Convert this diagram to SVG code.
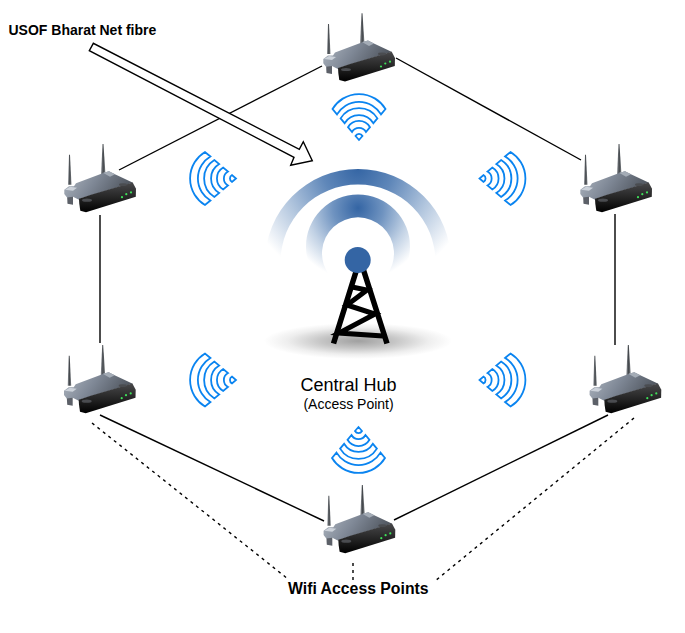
<svg xmlns="http://www.w3.org/2000/svg" width="685" height="633" viewBox="0 0 685 633">
<style>
.t{font-family:"Liberation Sans",Arial,sans-serif;fill:#000}
.b{font-weight:bold}
.c{fill:none;stroke:#000;stroke-width:1.4}
.d{fill:none;stroke:#000;stroke-width:1.4;stroke-dasharray:3 4}
.w{fill:none;stroke:#0a84f0;stroke-width:1.8;stroke-linejoin:miter}
</style>
<defs>
<linearGradient id="ant" x1="0" x2="1" y1="0" y2="0"><stop offset="0" stop-color="#90949a"/><stop offset="0.5" stop-color="#44484c"/><stop offset="1" stop-color="#7c8084"/></linearGradient>
<linearGradient id="plate" x1="0" x2="1" y1="0" y2="0.3"><stop offset="0" stop-color="#b0b8c2"/><stop offset="0.5" stop-color="#7f8896"/><stop offset="1" stop-color="#50565f"/></linearGradient>
<linearGradient id="front" x1="0" x2="0" y1="0" y2="1"><stop offset="0" stop-color="#48484a"/><stop offset="0.55" stop-color="#222"/><stop offset="1" stop-color="#000"/></linearGradient>
<radialGradient id="r1" gradientUnits="userSpaceOnUse" cx="358" cy="168" r="118"><stop offset="0" stop-color="#3465a4"/><stop offset="0.3" stop-color="#5f87b9"/><stop offset="0.65" stop-color="#b2c6de"/><stop offset="1" stop-color="#fff"/></radialGradient>
<radialGradient id="r2" gradientUnits="userSpaceOnUse" cx="358" cy="208" r="72"><stop offset="0" stop-color="#3465a4"/><stop offset="0.35" stop-color="#6f93c0"/><stop offset="0.7" stop-color="#c2d2e5"/><stop offset="1" stop-color="#fff"/></radialGradient>
<radialGradient id="sh" cx="0.5" cy="0.5" r="0.5"><stop offset="0" stop-color="#a0a0a0"/><stop offset="0.4" stop-color="#c6c6c6"/><stop offset="0.75" stop-color="#eeeeee"/><stop offset="1" stop-color="#fff"/></radialGradient>
<g id="router">
<polygon points="27,44 28,14 29,14 30.5,44" fill="url(#ant)"/>
<polygon points="60,34 61.5,3.3 62.5,3.3 64.5,34" fill="url(#ant)"/>
<polygon points="26,54 32,54 32,64 26.5,63" fill="#5c6068"/>
<polygon points="23.3,49 28,45.5 33,45.5 35,42.5 63,32 68,30.5 75,34 92,42 40,57.5 38,59 32,56 26,56.7 23.3,53.3" fill="url(#plate)"/>
<polygon points="24,49 29,46 36,47 32,50" fill="#ccd2da"/>
<polygon points="62,32 68,30.5 74,33.5 69,36" fill="#a4acb6"/>
<polygon points="38,58 50,54 91.7,41.7 95,48 94.8,56 45,71.5 39.3,70 38.3,63" fill="url(#front)"/>
<ellipse cx="46" cy="59.5" rx="5" ry="1.6" fill="#4a4c50"/>
<ellipse cx="82" cy="44" rx="4" ry="1.4" fill="#4a4c50"/>
<circle cx="81" cy="56.5" r="1.1" fill="#3fe05a"/><circle cx="85.3" cy="53.5" r="1.1" fill="#3fe05a"/><circle cx="90" cy="51.7" r="1.1" fill="#3fe05a"/>
</g>
<path id="wifi" class="w" d="M-3.5,-4 A4,4 0 0 1 3.5,-4 L0,0 Z M-7,-8 A8,8 0 0 1 7,-8 L11,-12.8 A12.8,12.8 0 0 0 -11,-12.8 Z M-14.4,-16.8 A16.8,16.8 0 0 1 14.4,-16.8 L18.4,-21.6 A21.6,21.6 0 0 0 -18.4,-21.6 Z M-22,-25.6 A25.6,25.6 0 0 1 22,-25.6 L26.5,-31 A31,31 0 0 0 -26.5,-31 Z"/>
</defs>

<g id="connectors">
<line class="c" x1="119" y1="170" x2="322" y2="66"/>
<line class="c" x1="396" y1="58" x2="581" y2="160"/>
<line class="c" x1="100" y1="215" x2="100" y2="343"/>
<line class="c" x1="615" y1="214" x2="615" y2="345"/>
<line class="c" x1="100" y1="415" x2="324" y2="521"/>
<line class="c" x1="394" y1="520" x2="608" y2="415"/>
<line class="d" x1="92" y1="423" x2="288" y2="579"/>
<line class="d" x1="634" y1="418" x2="435" y2="581"/>
<line class="d" x1="353" y1="563" x2="353" y2="580"/>
<polygon id="fibre-arrow" fill="#fff" stroke="#000" stroke-width="1.4" stroke-linejoin="miter" points="93.3,43.3 89.3,50.7 294,157.3 290.7,165.3 312.3,160.7 303.3,141.7 299.3,149.3"/>
</g>

<g id="hub">
<ellipse cx="358" cy="341" rx="94" ry="18" fill="url(#sh)"/>
<path d="M265,262 A93,93 0 0 1 451,262 L435.5,262 A77.5,77.5 0 0 0 280.5,262 Z" fill="url(#r1)"/>
<path d="M322,284 A52,52 0 1 1 394,284 L386,276 A36,36 0 1 0 330,276 Z" fill="url(#r2)"/>
<path d="M356.5,270 L333.5,343.5 M363.5,270 L387,343.5" fill="none" stroke="#000" stroke-width="5.5"/>
<path d="M352,287 L367,290 L347,305 L375,314 L339,333 L383,336" fill="none" stroke="#000" stroke-width="5"/>
<circle cx="357.7" cy="260" r="13" fill="#3465a4"/>
<text class="t" x="348.5" y="390.5" font-size="18" text-anchor="middle">Central Hub</text>
<text class="t" x="348.5" y="408.5" font-size="14" text-anchor="middle">(Access Point)</text>
</g>

<g id="wifi-signals">
<use href="#wifi" transform="translate(359,140)"/>
<use href="#wifi" transform="translate(358.5,427) rotate(180)"/>
<use href="#wifi" transform="translate(236,178.5) rotate(-90)"/>
<use href="#wifi" transform="translate(236,380) rotate(-90)"/>
<use href="#wifi" transform="translate(479.5,178.5) rotate(90)"/>
<use href="#wifi" transform="translate(479.5,380) rotate(90)"/>
</g>

<g id="router-top"><use href="#router" x="300" y="10"/></g>
<g id="router-upper-left"><use href="#router" x="41" y="140.7"/></g>
<g id="router-upper-right"><use href="#router" x="557" y="140.7"/></g>
<g id="router-lower-left"><use href="#router" x="40.7" y="341.7"/></g>
<g id="router-lower-right"><use href="#router" x="566.3" y="341.7"/></g>
<g id="router-bottom"><use href="#router" x="300.3" y="481.7"/></g>

<text id="label-fibre" class="t b" x="8.5" y="35" font-size="14">USOF Bharat Net fibre</text>
<text id="label-ap" class="t b" x="288" y="594" font-size="15.8">Wifi Access Points</text>
</svg>
